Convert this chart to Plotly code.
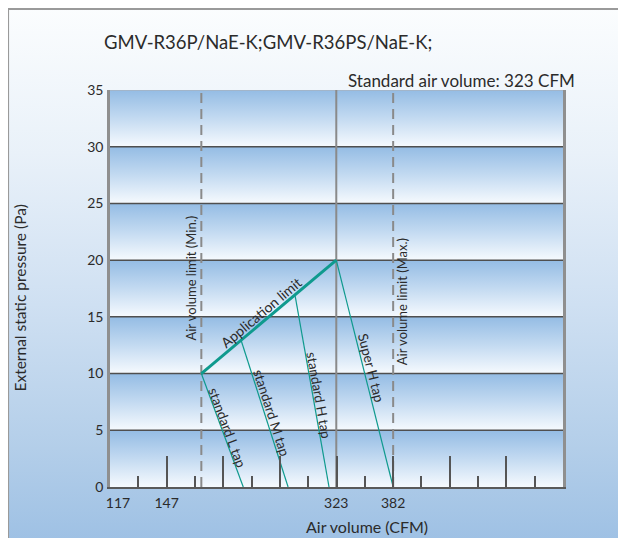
import base64
import plotly.graph_objects as go

# --- data ---
title_text = 'GMV-R36P/NaE-K;GMV-R36PS/NaE-K;'
std_air_text = 'Standard air volume: 323 CFM'

pressure_levels = [0, 5, 10, 15, 20, 25, 30, 35]          # Pa
x_tick_labels = ['117', '147', '323', '382']              # CFM labels under the axis
x_label_pos = [96.5, 147, 323, 382]                       # where they sit on the axis

air_min = 183          # Air volume limit (Min.)
air_std = 323          # standard air volume
air_max = 382          # Air volume limit (Max.)

# application limit (thick line)
app_x = [183, 323]
app_y = [10, 20]

# fan tap curves: start on the application limit, end at 0 Pa
taps = {
    'standard L tap': ([183, 226.5], [10, 0]),
    'standard M tap': ([224, 273], [13, 0]),
    'standard H tap': ([280, 315.5], [17, 0]),
    'Super H tap':    ([323, 382], [20, 0]),
}

x_range = [88.25, 558.2]
y_range = [0, 35]

TEAL = '#0f9a8e'
FONT = 'Lato'
TXT = '#2b2b2b'

fig = go.Figure()

# blue-to-white bands between the grid lines
for lo, hi in zip(pressure_levels[:-1], pressure_levels[1:]):
    fig.add_trace(go.Scatter(
        x=[x_range[0], x_range[1], x_range[1], x_range[0], x_range[0]],
        y=[lo, lo, hi, hi, lo],
        mode='lines', line=dict(width=0), fill='toself',
        fillgradient=dict(type='vertical', start=lo, stop=hi,
                          colorscale=[[0, '#f6fafe'], [0.5, '#c3daf1'], [1, '#94bce4']]),
        hoverinfo='skip', showlegend=False))

# horizontal grid lines
gx, gy = [], []
for p in pressure_levels[1:-1]:
    gx += [x_range[0], x_range[1], None]
    gy += [p, p, None]
fig.add_trace(go.Scatter(x=gx, y=gy, mode='lines', line=dict(color='#4f4f4f', width=1.5),
                         hoverinfo='skip', showlegend=False))
fig.add_trace(go.Scatter(x=x_range, y=[35, 35], mode='lines', line=dict(color='#a7b3c0', width=1.5),
                         hoverinfo='skip', showlegend=False))

# vertical reference lines
fig.add_trace(go.Scatter(x=[air_std, air_std], y=y_range, mode='lines',
                         line=dict(color='#8a8a8a', width=2), hoverinfo='skip', showlegend=False))
for v in (air_min, air_max):
    fig.add_trace(go.Scatter(x=[v, v], y=y_range, mode='lines',
                             line=dict(color='#8a8a8a', width=2, dash='10px,6px'),
                             hoverinfo='skip', showlegend=False))

# tap lines and application limit
for name, (tx, ty) in taps.items():
    fig.add_trace(go.Scatter(x=tx, y=ty, mode='lines', line=dict(color=TEAL, width=1.2),
                             name=name, showlegend=False))
fig.add_trace(go.Scatter(x=app_x, y=app_y, mode='lines', line=dict(color=TEAL, width=3),
                         name='Application limit', showlegend=False))

# dummy trace so the label axis gets drawn
fig.add_trace(go.Scatter(x=[x_range[0]], y=[0], xaxis='x2', mode='markers',
                         marker=dict(opacity=0), hoverinfo='skip', showlegend=False))


def on_line(tx, ty, y):
    return tx[0] + (ty[0] - y) / (ty[0] - ty[1]) * (tx[1] - tx[0])


ann = []
tap_style = {
    'standard L tap': (5.2, 69.7, 6),
    'standard M tap': (6.5, 72.2, 7),
    'standard H tap': (8.1, 79.9, 6),
    'Super H tap': (10.5, 76.0, 8),
}
for name, (yy, ang, shift) in tap_style.items():
    tx, ty = taps[name]
    ann.append(dict(x=on_line(tx, ty, yy), y=yy, text=name, textangle=ang, xshift=shift,
                    showarrow=False, font=dict(size=13.5, color=TXT, family=FONT)))
ann.append(dict(x=250, y=10 + (250 - app_x[0]) / (app_x[1] - app_x[0]) * 10, text='Application limit',
                textangle=-40, xshift=-5, yshift=7, showarrow=False,
                font=dict(size=14, color=TXT, family=FONT)))
ann.append(dict(x=air_min, y=18.4, text='Air volume limit (Min.)', textangle=-90, xshift=-10,
                showarrow=False, font=dict(size=13, color=TXT, family=FONT)))
ann.append(dict(x=air_max, y=16.3, text='Air volume limit (Max.)', textangle=-90, xshift=9,
                showarrow=False, font=dict(size=13, color=TXT, family=FONT)))
ann.append(dict(xref='paper', yref='paper', x=-0.0176, y=1.121, xanchor='left', yanchor='middle',
                text=title_text, showarrow=False, font=dict(size=18.5, color=TXT, family=FONT)))
ann.append(dict(xref='paper', yref='paper', x=1.03, y=1.0227, xanchor='right', yanchor='middle',
                text=std_air_text, showarrow=False, font=dict(size=17, color=TXT, family=FONT)))
ann.append(dict(xref='paper', yref='paper', x=0.567, y=-0.099, xanchor='center', yanchor='middle',
                text='Air volume (CFM)', showarrow=False, font=dict(size=16, color=TXT, family=FONT)))
ann.append(dict(xref='paper', yref='paper', x=-0.1985, y=0.475, xanchor='center', yanchor='middle',
                text='External static pressure (Pa)', textangle=-90, showarrow=False,
                font=dict(size=15.5, color=TXT, family=FONT)))

# page background: soft white-to-blue gradient with a grey frame
svg = ('<svg xmlns="http://www.w3.org/2000/svg" width="627" height="538" preserveAspectRatio="none">'
       '<defs><linearGradient id="g" x1="0" y1="0" x2="0" y2="1">'
       '<stop offset="0" stop-color="#fbfdfe"/><stop offset="0.27" stop-color="#e9f1f9"/>'
       '<stop offset="0.55" stop-color="#cfe0f2"/><stop offset="0.82" stop-color="#b3cee9"/>'
       '<stop offset="1" stop-color="#9dc0e4"/></linearGradient></defs>'
       '<rect x="0" y="0" width="627" height="538" fill="url(#g)"/>'
       '<path d="M1,538 L1,1 L627,1" fill="none" stroke="#9a9a9a" stroke-width="2"/></svg>')
bg_src = 'data:image/svg+xml;base64,' + base64.b64encode(svg.encode()).decode()

# the page puts the figure 8px in from the window corner, so margins are 8px smaller
fig.update_layout(
    width=626, height=538,
    margin=dict(l=102, r=71, t=82, b=59),
    paper_bgcolor='white', plot_bgcolor='rgba(0,0,0,0)',
    images=[dict(source=bg_src, xref='paper', yref='paper', x=-0.2272, y=1.2067,
                 sizex=1.383, sizey=1.356, sizing='stretch', xanchor='left', yanchor='top',
                 layer='below')],
    annotations=ann,
    xaxis=dict(range=x_range, showgrid=False, zeroline=False, showticklabels=False,
               showline=True, linecolor='#5a5a5a', linewidth=2,
               ticks='inside', tickmode='linear', tick0=147, dtick=58.75, ticklen=31,
               tickcolor='#555555', tickwidth=1.5,
               minor=dict(ticks='inside', tickmode='linear', tick0=117.625, dtick=29.375,
                          ticklen=11, tickcolor='#555555', tickwidth=1.5)),
    xaxis2=dict(range=x_range, overlaying='x', side='bottom', showgrid=False, zeroline=False,
                tickmode='array', tickvals=x_label_pos, ticktext=x_tick_labels, ticks='',
                ticklabelstandoff=6, tickfont=dict(size=14, color=TXT, family=FONT)),
    yaxis=dict(range=y_range, showgrid=False, zeroline=False, tickmode='array',
               tickvals=pressure_levels, ticks='', ticklabelstandoff=1,
               showline=True, mirror=True, linecolor='#8f8f8f', linewidth=2.5,
               tickfont=dict(size=14, color=TXT, family=FONT)),
    showlegend=False,
)

fig.write_html('out.html')
